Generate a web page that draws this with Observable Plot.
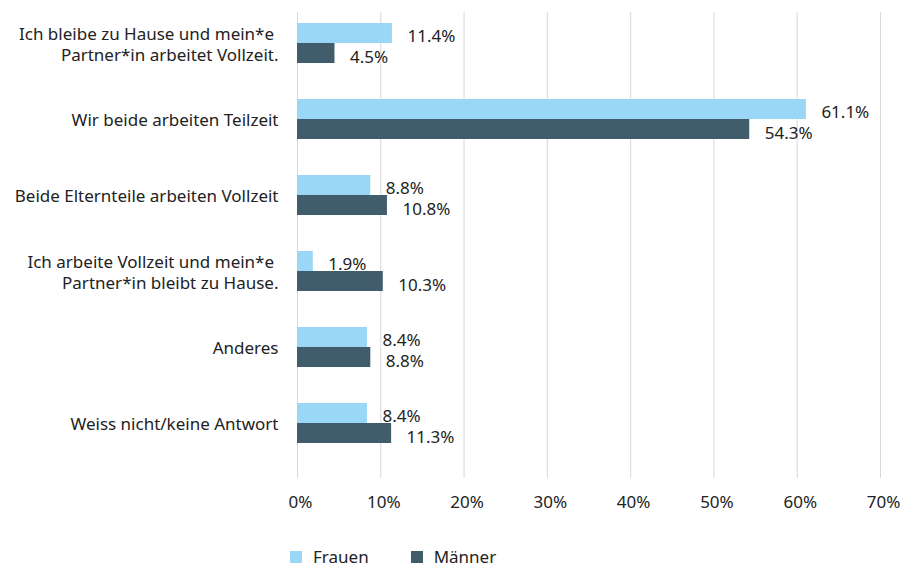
<!DOCTYPE html>
<html><head><meta charset="utf-8">
<script src="https://cdn.jsdelivr.net/npm/d3@7"></script>
<script src="https://cdn.jsdelivr.net/npm/@observablehq/plot@0.6"></script>
<style>
body{margin:0;background:#fff;font-family:"Noto Sans",sans-serif;position:relative;width:905px;height:567px;overflow:hidden;}
#legend{position:absolute;left:290px;top:547px;display:flex;align-items:center;font-size:17px;color:#222;line-height:20px;}
#legend .item{display:flex;align-items:center;margin-right:42px;}
#legend .sw{width:12px;height:12px;margin-right:11px;}
</style></head><body><div id="chart"></div><div id="legend"></div>
<script>
const categories = [
  "Ich bleibe zu Hause und mein*e\u00a0\nPartner*in arbeitet Vollzeit.",
  "Wir beide arbeiten Teilzeit",
  "Beide Elternteile arbeiten Vollzeit",
  "Ich arbeite Vollzeit und mein*e\u00a0\nPartner*in bleibt zu Hause.",
  "Anderes",
  "Weiss nicht/keine Antwort"
];
const frauen = [11.4, 61.1, 8.8, 1.9, 8.4, 8.4];
const maenner = [4.5, 54.3, 10.8, 10.3, 8.8, 11.3];
const seriesNames = ["Frauen", "Männer"];
const seriesColors = ["#9ad7f6", "#415d6c"];
const xTicks = [0, 10, 20, 30, 40, 50, 60, 70];

const rowsF = categories.map((c, i) => ({category: c, series: seriesNames[0], value: frauen[i]}));
const rowsM = categories.map((c, i) => ({category: c, series: seriesNames[1], value: maenner[i]}));
const fmt = d => d.value.toFixed(1) + "%";
const FS = 17;

const chart = Plot.plot({
  width: 905,
  height: 530,
  marginTop: 12,
  marginBottom: 52,
  marginLeft: 297,
  marginRight: 25,
  style: {fontFamily: "'Noto Sans', sans-serif", fontSize: FS + "px", color: "#222", background: "#fff"},
  x: {domain: [0, 70], label: null},
  y: {domain: categories, paddingInner: 0.48, paddingOuter: 0.28, align: 0.23, label: null},
  marks: [
    Plot.ruleX(xTicks, {stroke: "#d9d9d9", strokeWidth: 1}),
    Plot.barX(rowsF, {x: "value", y: "category", fill: seriesColors[0], insetBottom: 20}),
    Plot.barX(rowsM, {x: "value", y: "category", fill: seriesColors[1], insetTop: 20}),
    Plot.text(rowsF, {x: "value", y: "category", text: fmt, textAnchor: "start", dx: 15, dy: -7, fontSize: FS, fill: "#222"}),
    Plot.text(rowsM, {x: "value", y: "category", text: fmt, textAnchor: "start", dx: 15, dy: 14, fontSize: FS, fill: "#222"}),
    Plot.axisY({tickSize: 0, tickPadding: 19, fontSize: FS, lineHeight: 1.26, label: null}),
    Plot.axisX(xTicks, {tickSize: 0, tickPadding: 17, fontSize: FS, dx: 3, tickFormat: d => d + "%", label: null})
  ]
});
document.getElementById("chart").append(chart);

const legend = d3.select("#legend");
seriesNames.forEach((name, i) => {
  const item = legend.append("div").attr("class", "item");
  item.append("div").attr("class", "sw").style("background", seriesColors[i]);
  item.append("span").text(name);
});
</script>
</body></html>
